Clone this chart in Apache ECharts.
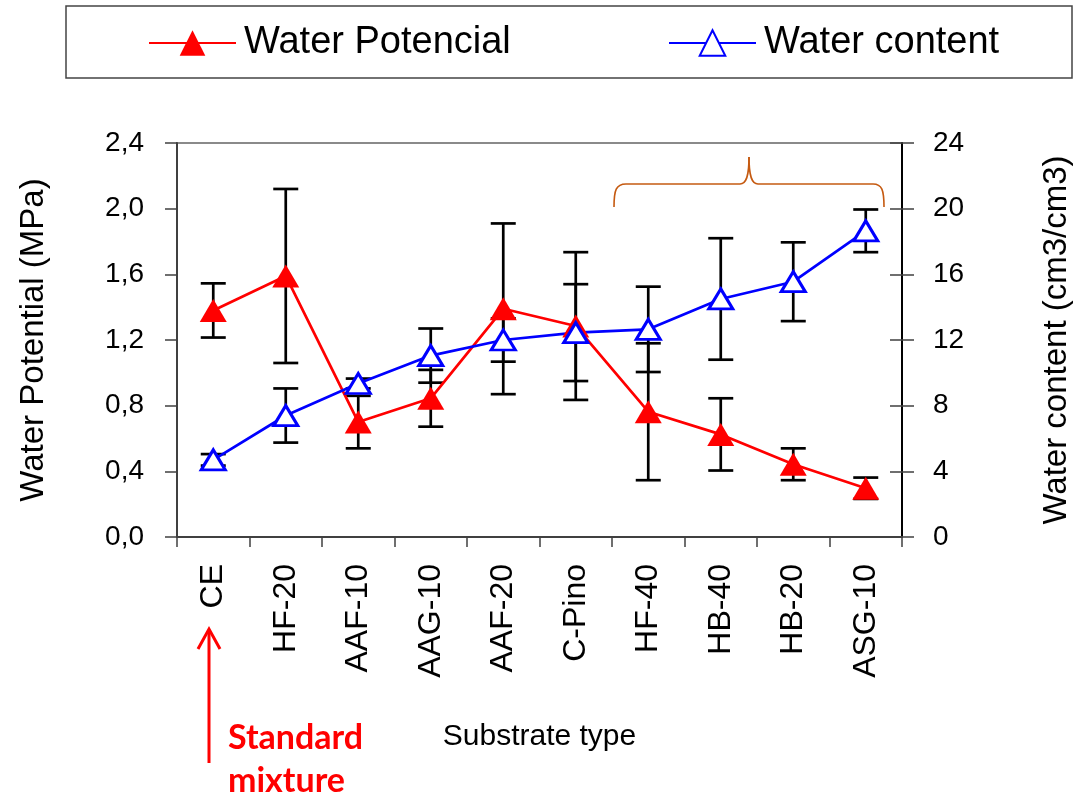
<!DOCTYPE html>
<html><head><meta charset="utf-8">
<script src="https://cdn.jsdelivr.net/npm/echarts@6/dist/echarts.min.js"></script>
<style>html,body{margin:0;padding:0;background:#fff}#c{width:1081px;height:802px}</style>
</head><body><div id="c"></div>
<script>
const categories = ['CE', 'HF-20', 'AAF-10', 'AAG-10', 'AAF-20', 'C-Pino', 'HF-40', 'HB-40', 'HB-20', 'ASG-10'];
const waterPotential = [1.38, 1.59, 0.70, 0.845, 1.39, 1.285, 0.763, 0.625, 0.443, 0.297];
const waterPotentialErr = [0.165, 0.53, 0.16, 0.173, 0.52, 0.45, 0.417, 0.22, 0.097, 0.065];
const waterContent = [4.7, 7.4, 9.35, 11.05, 12.0, 12.45, 12.65, 14.5, 15.55, 18.65];
const waterContentErr = [0.35, 1.65, 0.3, 1.65, 1.32, 2.95, 2.6, 3.7, 2.4, 1.3];
const leftTickLabels = ['0,0', '0,4', '0,8', '1,2', '1,6', '2,0', '2,4'];
const rightTickLabels = ['0', '4', '8', '12', '16', '20', '24'];

const FONT = 'Liberation Sans';
const chart = echarts.init(document.getElementById('c'));

function errData(vals, errs) {
  return vals.map((v, i) => [i, v - errs[i], v + errs[i]]);
}
function errRender(params, api) {
  const i = api.value(0);
  const lo = api.coord([i, api.value(1)]);
  const hi = api.coord([i, api.value(2)]);
  const w = 12.5;
  const st = { stroke: '#000', lineWidth: 2.7 };
  return {
    type: 'group', children: [
      { type: 'line', shape: { x1: lo[0], y1: lo[1], x2: hi[0], y2: hi[1] }, style: st },
      { type: 'line', shape: { x1: lo[0] - w, y1: lo[1], x2: lo[0] + w, y2: lo[1] }, style: st },
      { type: 'line', shape: { x1: hi[0] - w, y1: hi[1], x2: hi[0] + w, y2: hi[1] }, style: st }
    ]
  };
}

const legendText = { fontFamily: FONT, fontSize: 38, color: '#000', padding: [0, 0, 10, 3] };
const bracketStyle = { fill: 'none', stroke: '#c55a11', lineWidth: 1.6 };

chart.setOption({
  animation: false,
  backgroundColor: '#fff',
  textStyle: { fontFamily: FONT },
  legend: [
    { data: ['Water Potencial'], left: 143, top: 19, itemWidth: 87, itemHeight: 32, selectedMode: false, textStyle: legendText },
    { data: ['Water content'], left: 663, top: 19, itemWidth: 87, itemHeight: 32, selectedMode: false, textStyle: legendText }
  ],
  grid: { left: 177, top: 143, width: 725, height: 394, show: true, borderColor: '#8a8a8a', borderWidth: 2, backgroundColor: 'transparent' },
  xAxis: {
    type: 'category', data: categories, boundaryGap: true,
    name: 'Substrate type', nameLocation: 'middle', nameGap: 185,
    nameTextStyle: { fontFamily: FONT, fontSize: 30, color: '#000' },
    axisLine: { lineStyle: { color: '#404040', width: 2 } },
    axisTick: { show: true, length: 10, lineStyle: { color: '#404040', width: 1.5 } },
    axisLabel: { rotate: 90, interval: 0, margin: 27, fontSize: 32, color: '#000', fontFamily: FONT },
    splitLine: { show: false }
  },
  yAxis: [
    {
      type: 'value', position: 'left', min: 0, max: 2.4, interval: 0.4,
      name: 'Water Potential (MPa)', nameLocation: 'middle', nameGap: 127,
      nameTextStyle: { fontFamily: FONT, fontSize: 33, color: '#000' },
      axisLine: { show: true, lineStyle: { color: '#404040', width: 2 } },
      axisTick: { show: true, length: 12, lineStyle: { color: '#404040', width: 1.5 } },
      axisLabel: { margin: 33, fontSize: 28, color: '#000', fontFamily: FONT,
        formatter: v => leftTickLabels[Math.round(v / 0.4)] },
      splitLine: { show: false }
    },
    {
      type: 'value', position: 'right', min: 0, max: 24, interval: 4,
      name: 'Water content (cm3/cm3)', nameLocation: 'middle', nameGap: 138,
      nameTextStyle: { fontFamily: FONT, fontSize: 33, color: '#000' },
      axisLine: { show: true, lineStyle: { color: '#000', width: 2 } },
      axisTick: { show: true, inside: true, length: 12, lineStyle: { color: '#404040', width: 1.5 } },
      axisLabel: { margin: 31, fontSize: 28, color: '#000', fontFamily: FONT,
        formatter: v => rightTickLabels[Math.round(v / 4)] },
      splitLine: { show: false }
    },
    {
      type: 'value', position: 'right', min: 0, max: 24, interval: 4,
      axisLine: { show: false },
      axisTick: { show: true, length: 12, lineStyle: { color: '#404040', width: 1.5 } },
      axisLabel: { show: false },
      splitLine: { show: false }
    }
  ],
  series: [
    {
      type: 'custom', name: 'wp-err', yAxisIndex: 0, z: 1,
      renderItem: errRender, encode: { x: 0, y: [1, 2] },
      data: errData(waterPotential, waterPotentialErr)
    },
    {
      type: 'custom', name: 'wc-err', yAxisIndex: 1, z: 1,
      renderItem: errRender, encode: { x: 0, y: [1, 2] },
      data: errData(waterContent, waterContentErr)
    },
    {
      type: 'line', name: 'Water Potencial', yAxisIndex: 0, z: 3,
      data: waterPotential,
      symbol: 'triangle', symbolSize: [27, 23], showAllSymbol: true,
      lineStyle: { color: '#ff0000', width: 2.7 },
      itemStyle: { color: '#ff0000' }
    },
    {
      type: 'line', name: 'Water content', yAxisIndex: 1, z: 3,
      data: waterContent,
      symbol: 'triangle', symbolSize: [24, 20], showAllSymbol: true,
      lineStyle: { color: '#0000ff', width: 2.7 },
      itemStyle: { color: '#ffffff', borderColor: '#0000ff', borderWidth: 3 }
    }
  ],
  graphic: [
    { type: 'rect', shape: { x: 66, y: 6, width: 1006, height: 72 }, style: { fill: 'none', stroke: '#444', lineWidth: 1.5 }, z: 0 },
    { type: 'bezierCurve', shape: { x1: 614, y1: 207, x2: 626, y2: 184, cpx1: 614, cpy1: 190, cpx2: 616, cpy2: 184 }, style: bracketStyle },
    { type: 'line', shape: { x1: 626, y1: 184, x2: 740, y2: 184 }, style: bracketStyle },
    { type: 'bezierCurve', shape: { x1: 740, y1: 184, x2: 749, y2: 157, cpx1: 746, cpy1: 184, cpx2: 749, cpy2: 177 }, style: bracketStyle },
    { type: 'bezierCurve', shape: { x1: 749, y1: 157, x2: 758, y2: 184, cpx1: 749, cpy1: 177, cpx2: 752, cpy2: 184 }, style: bracketStyle },
    { type: 'line', shape: { x1: 758, y1: 184, x2: 873, y2: 184 }, style: bracketStyle },
    { type: 'bezierCurve', shape: { x1: 873, y1: 184, x2: 884, y2: 207, cpx1: 882, cpy1: 184, cpx2: 884, cpy2: 190 }, style: bracketStyle },
    { type: 'polyline', shape: { points: [[209, 763], [209, 630]] }, style: { stroke: '#ff0000', lineWidth: 3, fill: 'none' } },
    { type: 'polyline', shape: { points: [[198, 649], [209, 629], [220, 649]] }, style: { stroke: '#ff0000', lineWidth: 3, fill: 'none' } },
    { type: 'text', x: 228, y: 717, style: { text: 'Standard\nmixture', font: 'bold 34px Lato', fill: '#ff0000', lineHeight: 43, verticalAlign: 'top', align: 'left' } }
  ]
});
</script>
</body></html>
